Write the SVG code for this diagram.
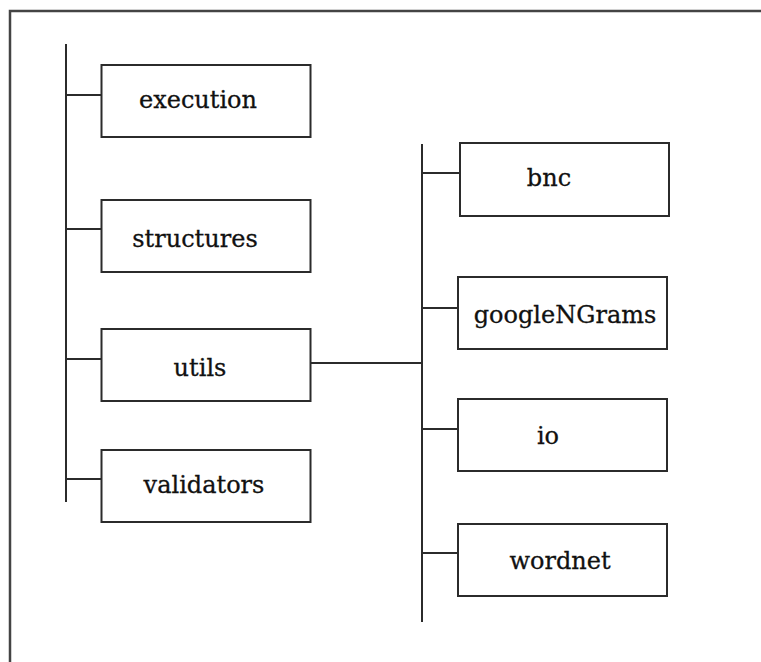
<svg xmlns="http://www.w3.org/2000/svg" width="761" height="662" viewBox="0 0 761 662">
<style>
.box{fill:#fff;stroke:#2b2b2b;stroke-width:2}
.ln{stroke:#2b2b2b;stroke-width:2;fill:none}
.frame{stroke:#444;stroke-width:2.5;fill:none}
text{font-family:"DejaVu Serif","Liberation Serif",serif;font-size:24px;fill:#111;stroke:#111;stroke-width:0.3;text-anchor:middle}
</style>
<rect width="761" height="662" fill="#fff"/>
<path class="frame" d="M10,662 V11 H761"/>
<g id="connectors">
<path class="ln" d="M66,44 V502 M66,95 H101 M66,229 H101 M66,359 H101 M66,479 H101"/>
<path class="ln" d="M310,363 H422 M422,144 V622 M422,173 H460 M422,308 H458 M422,429 H458 M422,553 H458"/>
</g>
<g id="execution"><rect class="box" x="101.5" y="65" width="209" height="72"/><text x="198" y="108">execution</text></g>
<g id="structures"><rect class="box" x="101.5" y="200" width="209" height="72"/><text x="195" y="247">structures</text></g>
<g id="utils"><rect class="box" x="101.5" y="329" width="209" height="72"/><text x="200" y="376">utils</text></g>
<g id="validators"><rect class="box" x="101.5" y="450" width="209" height="72"/><text x="204" y="493">validators</text></g>
<g id="bnc"><rect class="box" x="460" y="143" width="209" height="73"/><text x="549" y="186">bnc</text></g>
<g id="googleNGrams"><rect class="box" x="458" y="277" width="209" height="72"/><text x="565" y="323">googleNGrams</text></g>
<g id="io"><rect class="box" x="458" y="399" width="209" height="72"/><text x="548" y="444">io</text></g>
<g id="wordnet"><rect class="box" x="458" y="524" width="209" height="72"/><text x="560" y="569">wordnet</text></g>
</svg>
